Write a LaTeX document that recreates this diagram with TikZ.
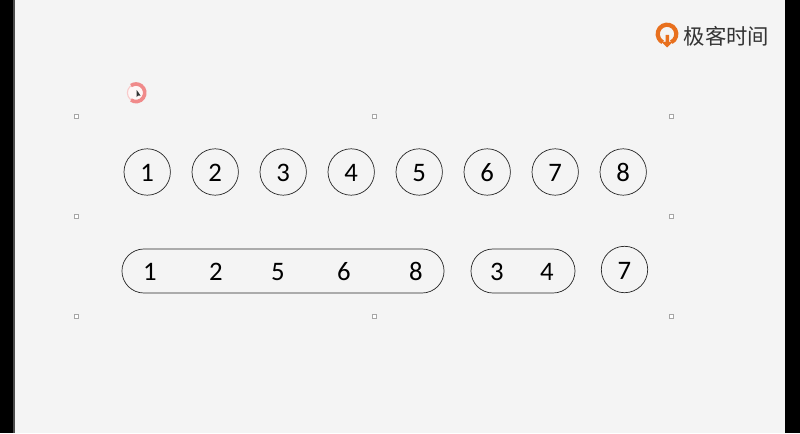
\documentclass[tikz,border=0pt]{standalone}
\usepackage{fontspec}
\setmainfont{Carlito}
\newfontfamily\cjkfont{Noto Sans CJK SC}
\usepackage{tikz}
\definecolor{pagebg}{HTML}{F4F4F4}
\definecolor{logoorange}{HTML}{E8701E}
\definecolor{spinpink}{HTML}{F08A8A}
\tikzset{
  numcirc/.style={circle, draw=black!85, line width=0.5pt, inner sep=0pt, minimum size=1.16cm, text height=0.48cm, text depth=0pt, font=\fontsize{19}{19}\selectfont},
  pillbox/.style={rectangle, draw=black!85, line width=0.5pt, rounded corners=0.55cm, minimum height=1.1cm},
  num/.style={inner sep=0pt, text height=0.43cm, text depth=0pt, font=\fontsize{19}{19}\selectfont},
  handle/.style={rectangle, draw=black!35, fill=white, line width=0.4pt, inner sep=0pt, minimum size=0.1cm}
}

\begin{document}
\begin{tikzpicture}[x=0.025cm, y=-0.025cm]
  \useasboundingbox (0,0) rectangle (800,433);
  \fill[black] (0,0) rectangle (800,433);
  \fill[black!70] (13,0) rectangle (15,433);
  \fill[pagebg] (14.5,0) rectangle (785,433);
  % selection handles
  \foreach \hx/\hy/\hname in {76/116/a, 374/116/b, 671/116/c, 76/216/d, 671/216/e, 76/316/f, 374/316/g, 671/316/h}
    \node[handle] (h\hname) at (\hx,\hy) {};
  % top row
  \foreach \i in {1,...,8}
    \node[numcirc] (c\i) at (79.2+68*\i,172) {\i};
  % bottom row
  \node[pillbox, minimum width=8.05cm] (pa) at (283,271) {};
  \node[pillbox, minimum width=2.6cm] (pb) at (523,271) {};
  \node[numcirc] (r7) at (624.5,269.5) {7};
  \foreach \i/\nx in {1/150, 2/216, 5/278, 6/344, 8/416}
    \node[num] (a\i) at (\nx,271.5) {\i};
  \foreach \i/\nx in {3/497, 4/547}
    \node[num] (b\i) at (\nx,271.5) {\i};
  % spinner
  \fill[white!92!spinpink] (136,92.8) circle (9);
  \draw[spinpink!45, line width=0.8pt] (136,92.8) circle (8.6);
  \draw[spinpink, line width=2.6pt] (136,92.8) ++(125:8.8) arc (125:-125:8.8);
  \fill[black!80] (136.7,90) -- (136.7,97) -- (138.2,95.5) -- (140.5,95.5) -- cycle;
  % logo
  \draw[logoorange, line width=3pt] (667,34) ++(62:9.3) arc (62:-242:9.3);
  \fill[logoorange] (667,47.5) -- (660.5,41) -- (665.5,42) -- (665.5,35) -- (669,35) -- (669,42) -- (673.5,41) -- cycle;
  \node[inner sep=0pt, text=black!80, font=\cjkfont\fontsize{15.2}{15}\selectfont] (logo) at (726.5,36) {极客时间};
\end{tikzpicture}
\end{document}
